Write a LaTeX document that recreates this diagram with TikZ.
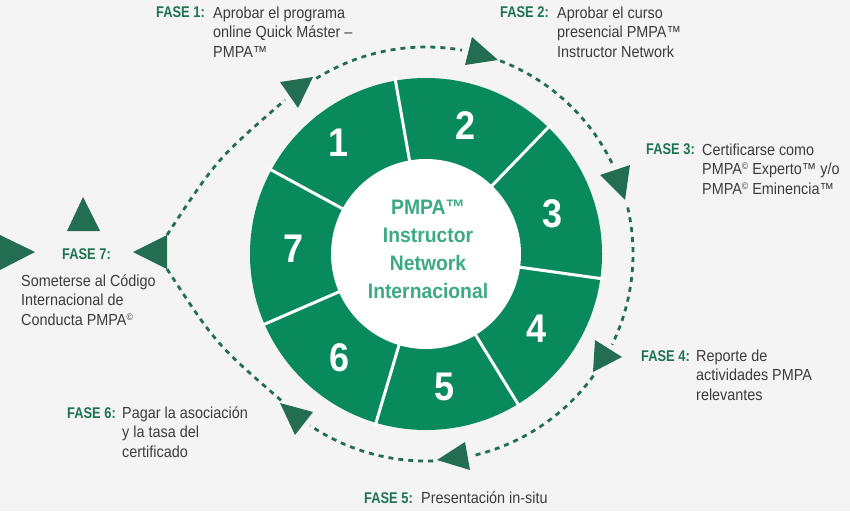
\documentclass[tikz,border=0pt]{standalone}
\usepackage{fontspec}
\setmainfont{Liberation Sans}
\newfontfamily\bodyf{Liberation Sans}[FakeStretch=0.9]
\newfontfamily\labf{Liberation Sans}[FakeStretch=0.83]
\newfontfamily\numf{Liberation Sans}[FakeStretch=0.9]
\newfontfamily\ctrf{Liberation Sans}[FakeStretch=0.92]
\definecolor{bg}{HTML}{F4F4F4}
\definecolor{ringc}{HTML}{088A5C}
\definecolor{dk}{HTML}{236E52}
\definecolor{ctrc}{HTML}{3CAA82}
\definecolor{labc}{HTML}{1E7350}
\definecolor{txtc}{HTML}{3C3C3C}
\newcommand{\cpy}{\raisebox{0.55ex}{\scalebox{0.6}{©}}}
\tikzset{
  lab/.style={font=\labf\fontsize{15.5}{19.5}\selectfont\bfseries, text=labc, inner sep=0pt, anchor=base east},
  body/.style={font=\bodyf\fontsize{16}{19.5}\selectfont, text=txtc, inner sep=0pt, anchor=base west, align=left},
  num/.style={font=\numf\fontsize{40}{40}\selectfont\bfseries, text=white, inner sep=0pt},
  tri/.style={fill=dk, draw=none},
  dashline/.style={draw=dk, line width=2.8pt, dash pattern=on 5pt off 5pt},
  sep/.style={draw=white, line width=3pt}
}
\begin{document}
\begin{tikzpicture}[x=1pt,y=-1pt]
\fill[bg] (0,0) rectangle (850,511);
\useasboundingbox (0,0) rectangle (850,511);
\begin{scope}[shift={(426pt,-254pt)}, x=1pt, y=1pt]
  \fill[ringc] (0,0) circle[radius=176];
  \fill[white] (0,0) circle[radius=95];
  \foreach \a in {100,46,-8,-58.5,-106.5,-156.5,151.5}
    \draw[sep] (\a:90) -- (\a:180);
  \node[num] (n1) at (-87,111) {1};
  \node[num] (n2) at (40,128) {2};
  \node[num] (n3) at (127,40) {3};
  \node[num] (n4) at (111,-75) {4};
  \node[num] (n5) at (19,-133) {5};
  \node[num] (n6) at (-86,-104) {6};
  \node[num] (n7) at (-132,5) {7};
  \draw[dashline] (122:207) arc[start angle=122, end angle=80, radius=207];
  \draw[dashline] (69:207) arc[start angle=69, end angle=25, radius=207];
  \draw[dashline] (13:207) arc[start angle=13, end angle=-26, radius=207];
  \draw[dashline] (-36:207) arc[start angle=-36, end angle=-77, radius=207];
  \draw[dashline] (-88:207) arc[start angle=-88, end angle=-124, radius=207];
\end{scope}
% outer dashed links to phase 7
\coordinate (g1) at (167,235);
\coordinate (g2) at (285,100);
\coordinate (f1) at (167,269);
\coordinate (f2) at (283,402);
\draw[dashline] (g1) .. controls (217,159) .. (g2);
\draw[dashline] (f1) .. controls (216,344) .. (f2);
% triangles
\fill[tri] (280,82) -- (313,77) -- (298,108) -- cycle;
\fill[tri] (472,37) -- (465,65) -- (498,60) -- cycle;
\fill[tri] (600,175) -- (630,165) -- (625,200) -- cycle;
\fill[tri] (595,340) -- (593,372) -- (622,357) -- cycle;
\fill[tri] (465,442) -- (470,470) -- (437,460) -- cycle;
\fill[tri] (280,403) -- (313,412) -- (295,435) -- cycle;
\fill[tri] (133,252) -- (167,235) -- (167,269) -- cycle;
\fill[tri] (83,197) -- (67,231) -- (100,231) -- cycle;
\fill[tri] (0,235) -- (0,270) -- (35,252) -- cycle;
% center text (anchor = baseline of last line)
\node[font=\ctrf\fontsize{21}{27.7}\selectfont\bfseries, text=ctrc, align=center, inner sep=0pt, anchor=base] (ctr) at (428,298) {PMPA™\\Instructor\\Network\\Internacional};
% labels (body anchors = baseline of last line)
\node[lab] (l1) at (205,18) {FASE 1:};
\node[body] (b1) at (213,57) {Aprobar el programa\\online Quick Máster –\\PMPA™};
\node[lab] (l2) at (549,18) {FASE 2:};
\node[body] (b2) at (557,57) {Aprobar el curso\\presencial PMPA™\\Instructor Network};
\node[lab] (l3) at (695,154) {FASE 3:};
\node[body] (b3) at (702,194) {Certificarse como\\PMPA\cpy{} Experto™ y/o\\PMPA\cpy{} Eminencia™};
\node[lab] (l4) at (690,361) {FASE 4:};
\node[body] (b4) at (696,400) {Reporte de\\actividades PMPA\\relevantes};
\node[lab] (l5) at (413,503) {FASE 5:};
\node[body] (b5) at (421,503) {Presentación in-situ};
\node[lab] (l6) at (116,418) {FASE 6:};
\node[body] (b6) at (122,457) {Pagar la asociación\\y la tasa del\\certificado};
\node[lab, anchor=base west] (l7) at (62,259) {FASE 7:};
\node[body] (b7) at (21,325) {Someterse al Código\\Internacional de\\Conducta PMPA\cpy};
\end{tikzpicture}
\end{document}
